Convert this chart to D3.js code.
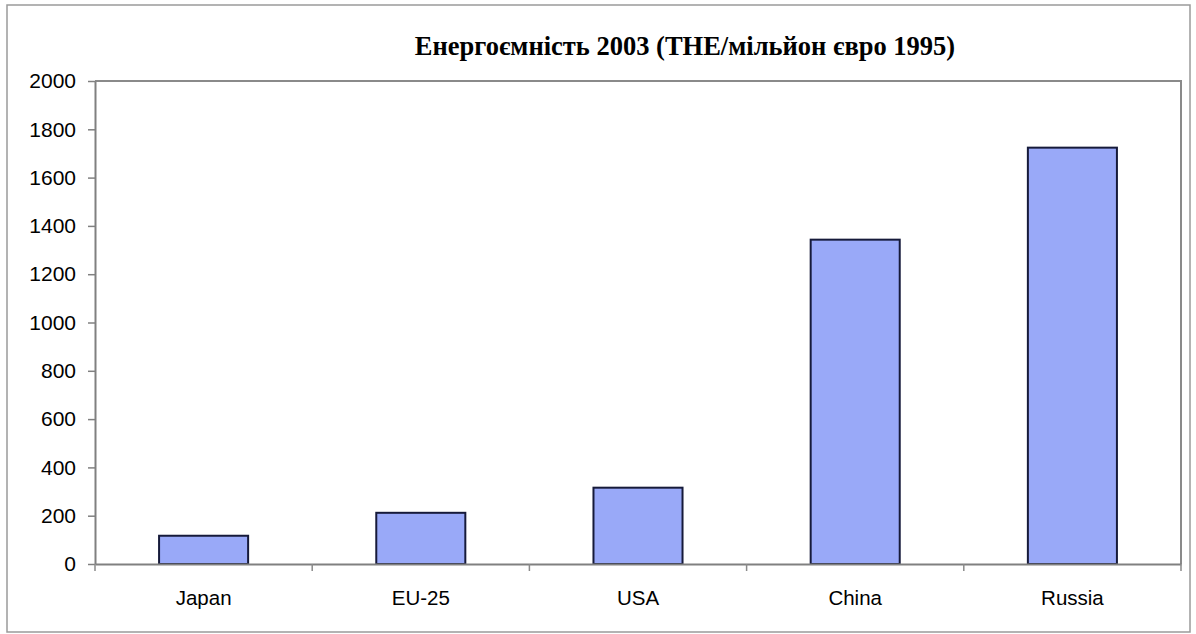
<!DOCTYPE html>
<html>
<head>
<meta charset="utf-8">
<script src="https://cdn.jsdelivr.net/npm/d3@7"></script>
<style>
  html, body { margin: 0; padding: 0; background: #fff; }
  svg { display: block; }
</style>
</head>
<body>
<svg id="chart" width="1196" height="634"></svg>
<script>
// Energy intensity 2003, toe per million euro (1995 prices)
const categories = ["Japan", "EU-25", "USA", "China", "Russia"];
const values = [117, 212, 316, 1343, 1724];
const yTicks = [0, 200, 400, 600, 800, 1000, 1200, 1400, 1600, 1800, 2000];
const title = "Енергоємність 2003 (ТНЕ/мільйон євро 1995)";

const svg = d3.select("#chart");
const plot = { left: 95, right: 1181, top: 81, bottom: 564 };

// outer frame
svg.append("rect")
  .attr("x", 7).attr("y", 5).attr("width", 1183).attr("height", 627)
  .attr("fill", "#fff").attr("stroke", "#9a9a9a").attr("stroke-width", 1.5);

const x = d3.scaleBand()
  .domain(categories)
  .range([plot.left, plot.right])
  .paddingInner(0.59).paddingOuter(0.295);

const y = d3.scaleLinear().domain([0, 2000]).range([plot.bottom, plot.top]);

// plot area border (top and right)
svg.append("path")
  .attr("d", `M${plot.left},${plot.top}H${plot.right}V${plot.bottom}`)
  .attr("fill", "none").attr("stroke", "#8a8a8a").attr("stroke-width", 2);

// bars
svg.append("g").selectAll("rect")
  .data(values)
  .join("rect")
  .attr("x", (d, i) => x(categories[i]))
  .attr("y", d => y(d))
  .attr("width", x.bandwidth())
  .attr("height", d => y(0) - y(d))
  .attr("fill", "#99a9f8")
  .attr("stroke", "#161a3a")
  .attr("stroke-width", 2);

// y axis
const yAxis = svg.append("g")
  .attr("transform", `translate(${plot.left},0)`)
  .call(d3.axisLeft(y).tickValues(yTicks).tickFormat(d3.format("d"))
    .tickSize(7).tickPadding(12).tickSizeOuter(0));
yAxis.select(".domain").attr("stroke", "#808080").attr("stroke-width", 2);
yAxis.selectAll(".tick line").attr("stroke", "#808080").attr("stroke-width", 1.5);
yAxis.selectAll(".tick text")
  .attr("font-family", "Liberation Sans, Arial, sans-serif")
  .attr("font-size", 21).attr("fill", "#000");

// x axis: baseline, category separators and labels
const xAxis = svg.append("g")
  .attr("transform", `translate(0,${plot.bottom})`)
  .call(d3.axisBottom(x).tickSize(0).tickPadding(26));
xAxis.select(".domain").attr("stroke", "#808080").attr("stroke-width", 2);
xAxis.selectAll(".tick text")
  .attr("font-family", "Liberation Sans, Arial, sans-serif")
  .attr("font-size", 20.5).attr("fill", "#000");

const boundaries = d3.range(categories.length + 1)
  .map(i => plot.left + i * (plot.right - plot.left) / categories.length);
svg.append("g").selectAll("line")
  .data(boundaries)
  .join("line")
  .attr("x1", d => d).attr("x2", d => d)
  .attr("y1", plot.bottom).attr("y2", plot.bottom + 7)
  .attr("stroke", "#8a8a8a").attr("stroke-width", 1.5);

// title
svg.append("text")
  .attr("x", 685).attr("y", 55)
  .attr("text-anchor", "middle")
  .attr("font-family", "Liberation Serif, Times New Roman, serif")
  .attr("font-weight", "bold")
  .attr("font-size", 26.5)
  .attr("fill", "#000")
  .text(title);
</script>
</body>
</html>
